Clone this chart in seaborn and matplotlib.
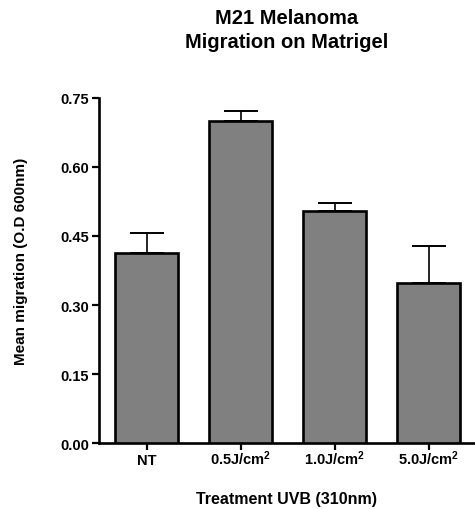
import matplotlib
matplotlib.use("Agg")
import matplotlib.pyplot as plt
import seaborn as sns
import pandas as pd
import numpy as np

# Mean migration values with SEM for each UVB dose
treatments = ["NT", "0.5J/cm$^2$", "1.0J/cm$^2$", "5.0J/cm$^2$"]
mean_migration = [0.413, 0.700, 0.505, 0.348]
sem_migration = [0.043, 0.022, 0.017, 0.080]
y_ticks = [0.00, 0.15, 0.30, 0.45, 0.60, 0.75]

sns.set_theme(style="ticks")
plt.rcParams["font.family"] = ["Liberation Sans", "DejaVu Sans"]
plt.rcParams["font.weight"] = "bold"
plt.rcParams["text.color"] = "black"
plt.rcParams["axes.labelcolor"] = "black"
plt.rcParams["mathtext.fontset"] = "custom"
plt.rcParams["mathtext.rm"] = "Liberation Sans:bold"
plt.rcParams["mathtext.bf"] = "Liberation Sans:bold"
plt.rcParams["mathtext.it"] = "Liberation Sans:bold"
plt.rcParams["mathtext.default"] = "bf"

df = pd.DataFrame({"Treatment": treatments, "Migration": mean_migration})

fig = plt.figure(figsize=(4.75, 5.1), dpi=100)
ax = fig.add_axes([0.2084, 0.1294, 0.7916, 0.6765])

sns.barplot(data=df, x="Treatment", y="Migration", order=treatments,
            color="#808080", saturation=1, width=0.67, errorbar=None,
            edgecolor="black", linewidth=1.9, ax=ax, zorder=3)

xpos = np.arange(len(treatments))
ax.errorbar(xpos, mean_migration,
            yerr=[np.zeros(len(sem_migration)), sem_migration],
            fmt="none", ecolor="black", elinewidth=1.2, capsize=12,
            capthick=1.4, zorder=2)

ax.set_xlim(-0.51, 3.49)
ax.set_ylim(0, 0.75)
ax.set_yticks(y_ticks)
ax.set_yticklabels([f"{v:.2f}" for v in y_ticks])

sns.despine(ax=ax, top=True, right=True)
for side in ("left", "bottom"):
    ax.spines[side].set_linewidth(1.9)
    ax.spines[side].set_color("black")
ax.tick_params(axis="both", direction="out", length=5, width=1.6,
               colors="black", labelsize=10.5)
ax.tick_params(axis="y", pad=2)
# baseline-aligned category labels so the superscripts don't push text down
ax.tick_params(axis="x", pad=10)
for lbl in ax.get_xticklabels():
    lbl.set_verticalalignment("baseline")
for lbl in ax.get_xticklabels() + ax.get_yticklabels():
    lbl.set_fontweight("bold")

ax.set_xlabel("Treatment UVB (310nm)", fontsize=11.5, fontweight="bold")
ax.xaxis.set_label_coords(0.5, -0.140)
ax.set_ylabel("Mean migration (O.D 600nm)", fontsize=11, fontweight="bold")
ax.yaxis.set_label_coords(-0.19, 0.53)

fig.text(0.604, 1 - 18 / 510, "M21 Melanoma", ha="center", va="center",
         fontsize=14.5, fontweight="bold", color="black")
fig.text(0.604, 1 - 42 / 510, "Migration on Matrigel", ha="center",
         va="center", fontsize=14.5, fontweight="bold", color="black")

fig.savefig("out.png", dpi=100, facecolor="white")
